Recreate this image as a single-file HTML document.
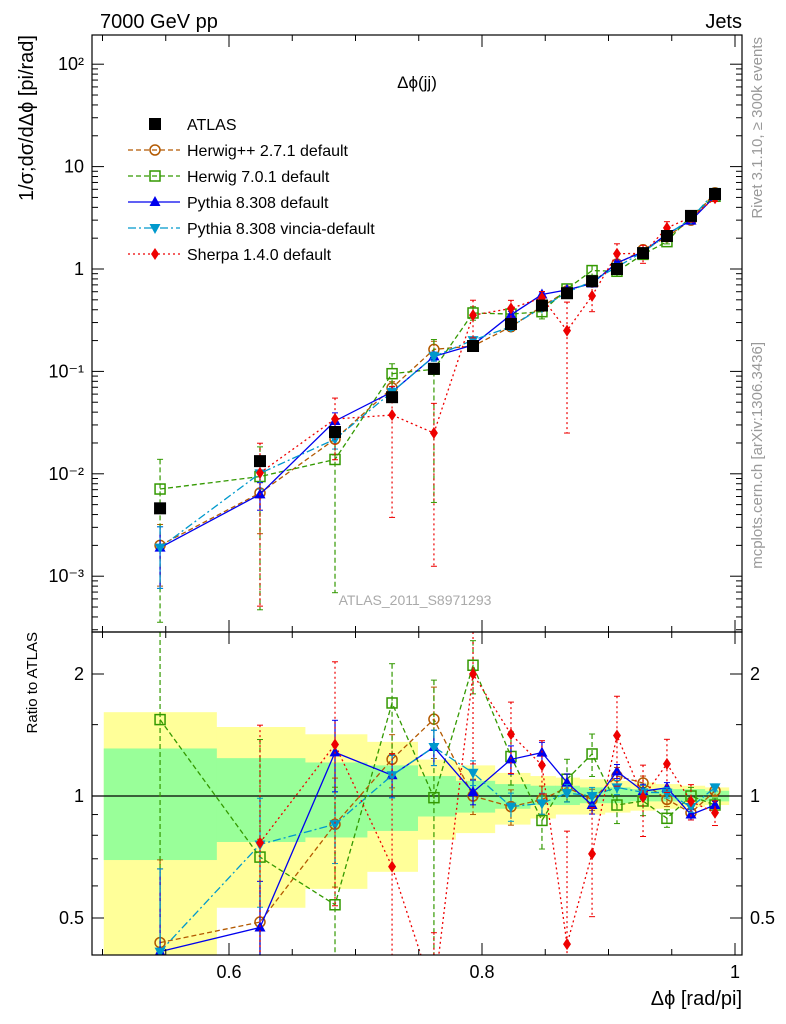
<!DOCTYPE html>
<html><head><meta charset="utf-8"><style>
html,body{margin:0;padding:0;background:#fff;width:786px;height:1024px;overflow:hidden}
svg{display:block;font-family:"Liberation Sans",sans-serif}
</style></head><body>
<svg id="c" width="786" height="1024" xmlns="http://www.w3.org/2000/svg"></svg>
<script>
const xs=[0.5455,0.6245,0.6838,0.7289,0.762,0.7929,0.8229,0.8474,0.8672,0.887,0.9067,0.9273,0.9462,0.9652,0.9842];
const atlas=[0.0046,0.0133,0.0256,0.056,0.106,0.177,0.29,0.44,0.58,0.76,1.0,1.43,2.1,3.3,5.4];
const herwigpp=[0.0020,0.0065,0.0218,0.069,0.164,0.177,0.273,0.431,0.609,0.745,1.12,1.54,2.06,3.0,5.56];
const herwig7=[0.0071,0.0094,0.0138,0.095,0.105,0.372,0.363,0.383,0.638,0.965,0.95,1.39,1.85,3.3,5.13];
const pythia=[0.0019,0.0063,0.0328,0.063,0.140,0.181,0.357,0.563,0.626,0.722,1.15,1.47,2.2,2.97,5.13];
const vincia=[0.0019,0.0101,0.0218,0.063,0.140,0.202,0.273,0.422,0.59,0.76,1.05,1.46,2.14,3.1,5.67];
const sherpa=[null,0.0102,0.0343,0.0375,0.025,0.354,0.412,0.524,0.25,0.547,1.41,1.42,2.52,3.2,4.91];
const errHpp=[0.6,0.6,0.3,0.15,0.2,0.1,0.1,0.08,0.08,0.06,0.05,0.04,0.04,0.03,0.03];
const errH7=[0.95,0.95,0.95,0.25,0.95,0.15,0.15,0.15,0.12,0.12,0.1,0.08,0.05,0.05,0.04];
const errPy=[0.6,0.3,0.2,0.12,0.1,0.07,0.08,0.06,0.05,0.05,0.04,0.04,0.03,0.03,0.02];
const errVi=[0.6,0.3,0.2,0.12,0.1,0.07,0.08,0.06,0.05,0.05,0.04,0.04,0.03,0.03,0.02];
const errSh=[0.9,0.95,0.6,0.9,0.95,0.4,0.2,0.15,0.9,0.3,0.25,0.2,0.15,0.1,0.07];
const edges=[0.501,0.59,0.66,0.709,0.749,0.779,0.81,0.838,0.858,0.877,0.897,0.917,0.937,0.957,0.976,0.995];
const yelLo=[0.3,0.53,0.59,0.65,0.78,0.81,0.85,0.88,0.9,0.9,0.91,0.92,0.93,0.94,0.95];
const yelHi=[1.61,1.48,1.42,1.36,1.23,1.19,1.14,1.12,1.11,1.1,1.09,1.08,1.07,1.06,1.05];
const grnLo=[0.695,0.77,0.79,0.82,0.89,0.91,0.93,0.95,0.95,0.96,0.96,0.97,0.97,0.97,0.97];
const grnHi=[1.31,1.24,1.21,1.19,1.12,1.09,1.07,1.06,1.06,1.05,1.05,1.04,1.04,1.04,1.03];
const mainTicks=[[2,'10²'],[1,'10'],[0,'1'],[-1,'10⁻¹'],[-2,'10⁻²'],[-3,'10⁻³']];
const ratioTicks=[2,1,0.5];
const xTicks=[0.6,0.8,1];

const S=document.getElementById('c'),NS='http://www.w3.org/2000/svg';
const L=92,R=742,T=35,M=632,B=955;
const X=v=>229+(v-0.6)*1265;
const Y=v=>269-102.4*Math.log10(v);
const YR=r=>796-122*Math.log2(r);
const cl=(v,a,b)=>Math.min(Math.max(v,a),b);
function el(t,a,p){const e=document.createElementNS(NS,t);for(const k in a)e.setAttribute(k,a[k]);(p||S).appendChild(e);return e;}
function tx(x,y,s,a,p){const e=el('text',Object.assign({x,y,'font-size':18,fill:'#000'},a||{}),p);e.textContent=s;return e;}
const defs=el('defs',{});
const c1=el('clipPath',{id:'cm'},defs);el('rect',{x:L,y:T,width:R-L,height:M-T},c1);
const c2=el('clipPath',{id:'cr'},defs);el('rect',{x:L,y:M,width:R-L,height:B-M},c2);
const gm=el('g',{'clip-path':'url(#cm)'});
const gr=el('g',{'clip-path':'url(#cr)'});
function band(lo,hi,fill,name){
 for(let i=0;i<lo.length;i++){
  const yt=cl(YR(hi[i]),M,B),yb=cl(YR(lo[i]),M,B);
  const r=el('rect',{x:X(edges[i]),y:yt,width:X(edges[i+1])-X(edges[i])+0.5,height:yb-yt,fill:fill},gr);
  
 }
}
band(yelLo,yelHi,'#ffff99','syst-band');
band(grnLo,grnHi,'#99ff99','stat-band');
el('line',{x1:L,x2:R,y1:YR(1),y2:YR(1),stroke:'#000','stroke-width':1.2},gr);
function marker(g,t,x,y,c){
 if(t==='sq')return el('rect',{x:x-6,y:y-6,width:12,height:12,fill:'#000'},g);
 if(t==='osq')return el('rect',{x:x-5,y:y-5,width:10,height:10,fill:'none',stroke:c,'stroke-width':1.5},g);
 if(t==='oc')return el('circle',{cx:x,cy:y,r:5,fill:'none',stroke:c,'stroke-width':1.5},g);
 if(t==='tu')return el('polygon',{points:`${x},${y-6} ${x-5.5},${y+4} ${x+5.5},${y+4}`,fill:c},g);
 if(t==='td')return el('polygon',{points:`${x},${y+6} ${x-5.5},${y-4} ${x+5.5},${y-4}`,fill:c},g);
 if(t==='dm')return el('polygon',{points:`${x},${y-6} ${x-4},${y} ${x},${y+6} ${x+4},${y}`,fill:c},g);
}
const series=[
 {d:herwigpp,e:errHpp,c:'#b35900',m:'oc',dash:'5,3',n:'herwigpp-2.7.1'},
 {d:herwig7,e:errH7,c:'#339900',m:'osq',dash:'5,3',n:'herwig-7.0.1'},
 {d:pythia,e:errPy,c:'#0000ee',m:'tu',dash:'',n:'pythia-8.308'},
 {d:vincia,e:errVi,c:'#0099cc',m:'td',dash:'8,3,2,3',n:'pythia-vincia'},
 {d:sherpa,e:errSh,c:'#ee0000',m:'dm',dash:'2,3',n:'sherpa-1.4.0'}];
function drawSeries(g,fy,top,bot,vals,errs,s,name){
 let pts=[];
 vals.forEach((v,i)=>{if(v==null)return;
  const x=X(xs[i]);
  const r1=fy(v*(1+errs[i]),i),r2=fy(v*Math.max(1-errs[i],0.001),i);
  const y1=cl(r1,top,bot),y2=cl(r2,top,bot);
  const eb=el('line',{x1:x,x2:x,y1:y1,y2:y2,stroke:s.c,'stroke-width':1.2,'stroke-dasharray':s.dash},g);
  
  if(r1>top)el('line',{x1:x-3,x2:x+3,y1:y1,y2:y1,stroke:s.c,'stroke-width':1},g);
  if(r2<bot)el('line',{x1:x-3,x2:x+3,y1:y2,y2:y2,stroke:s.c,'stroke-width':1},g);
  pts.push([x,cl(fy(v,i),top-40,bot+40)]);});
 const p=el('polyline',{points:pts.map(q=>q.join(',')).join(' '),fill:'none',stroke:s.c,'stroke-width':1.3,'stroke-dasharray':s.dash},g);
 
 pts.forEach(q=>{if(q[1]<top-8||q[1]>bot+8)return;const m=marker(g,s.m,q[0],q[1],s.c);});
}
series.forEach(s=>{
 drawSeries(gm,v=>Y(v),T,M,s.d,s.e,s,s.n);
 drawSeries(gr,(v,i)=>YR(v/atlas[i]),M,B,s.d,s.e,s,s.n+'-ratio');
});
atlas.forEach((v,i)=>{const m=marker(gm,'sq',X(xs[i]),Y(v));});
el('rect',{x:L,y:T,width:R-L,height:M-T,fill:'none',stroke:'#000','stroke-width':1.2});
el('rect',{x:L,y:M,width:R-L,height:B-M,fill:'none',stroke:'#000','stroke-width':1.2});
mainTicks.forEach(([e,l])=>{
 const y=Y(Math.pow(10,e));
 el('line',{x1:L,x2:L+12,y1:y,y2:y,stroke:'#000'});el('line',{x1:R,x2:R-12,y1:y,y2:y,stroke:'#000'});
 for(let k=2;k<10;k++){const yy=Y(k*Math.pow(10,e-1));if(yy<M&&yy>T){el('line',{x1:L,x2:L+6,y1:yy,y2:yy,stroke:'#000'});el('line',{x1:R,x2:R-6,y1:yy,y2:yy,stroke:'#000'});}}
 const t=tx(84,y+6,l,{'text-anchor':'end'});
});
ratioTicks.forEach(r=>{
 const y=YR(r);el('line',{x1:L,x2:L+12,y1:y,y2:y,stroke:'#000'});el('line',{x1:R,x2:R-12,y1:y,y2:y,stroke:'#000'});
 const a=tx(84,y+6,String(r),{'text-anchor':'end'});
 const b=tx(750,y+6,String(r));
});
[0.6,0.7,0.8,0.9,1.5].forEach(r=>{const y=YR(r);el('line',{x1:L,x2:L+6,y1:y,y2:y,stroke:'#000'});el('line',{x1:R,x2:R-6,y1:y,y2:y,stroke:'#000'});});
xTicks.forEach(v=>{const x=X(v);
 [[T,T+12],[M,M-12],[M,M+12],[B,B-12]].forEach(q=>el('line',{x1:x,x2:x,y1:q[0],y2:q[1],stroke:'#000'}));
 const t=tx(x,978,String(v),{'text-anchor':'middle'});});
for(let v=0.5;v<=1.0001;v+=0.05){const x=X(v);if(x>L&&x<R){[[T,T+6],[M,M-6],[M,M+6],[B,B-6]].forEach(q=>el('line',{x1:x,x2:x,y1:q[0],y2:q[1],stroke:'#000'}));}}
let t;
t=tx(100,28,'7000 GeV pp',{'font-size':20});
t=tx(742,28,'Jets',{'font-size':20,'text-anchor':'end'});
t=tx(417,88,'Δϕ(jj)',{'font-size':17,'text-anchor':'middle'});
t=tx(415,605,'ATLAS_2011_S8971293',{'font-size':14,'text-anchor':'middle',fill:'#aaa'});
t=tx(0,0,'1/σ;dσ/dΔϕ [pi/rad]',{'font-size':20,'text-anchor':'end',transform:'translate(33,35) rotate(-90)'});
t=tx(0,0,'Ratio to ATLAS',{'font-size':15,'text-anchor':'end',transform:'translate(37,632) rotate(-90)'});
t=tx(742,1005,'Δϕ [rad/pi]',{'font-size':20,'text-anchor':'end'});
t=tx(0,0,'Rivet 3.1.10, ≥ 300k events',{'font-size':15,'text-anchor':'end',fill:'#999',transform:'translate(762,37) rotate(-90)'});
t=tx(0,0,'mcplots.cern.ch [arXiv:1306.3436]',{'font-size':15,'text-anchor':'end',fill:'#999',transform:'translate(762,342) rotate(-90)'});
const leg=el('g',{});
const legItems=[{c:'#000',m:'sq',dash:null,n:'ATLAS'},
 {c:'#b35900',m:'oc',dash:'5,3',n:'Herwig++ 2.7.1 default'},
 {c:'#339900',m:'osq',dash:'5,3',n:'Herwig 7.0.1 default'},
 {c:'#0000ee',m:'tu',dash:'',n:'Pythia 8.308 default'},
 {c:'#0099cc',m:'td',dash:'8,3,2,3',n:'Pythia 8.308 vincia-default'},
 {c:'#ee0000',m:'dm',dash:'2,3',n:'Sherpa 1.4.0 default'}];
legItems.forEach((it,i)=>{
 const y=124+i*26;const g=el('g',{},leg);
 
 if(it.dash!==null)el('line',{x1:128,x2:180,y1:y,y2:y,stroke:it.c,'stroke-width':1.3,'stroke-dasharray':it.dash},g);
 marker(g,it.m,155,y,it.c);
 tx(187,y+6,it.n,{'font-size':16},g);
});
</script>
</body></html>
